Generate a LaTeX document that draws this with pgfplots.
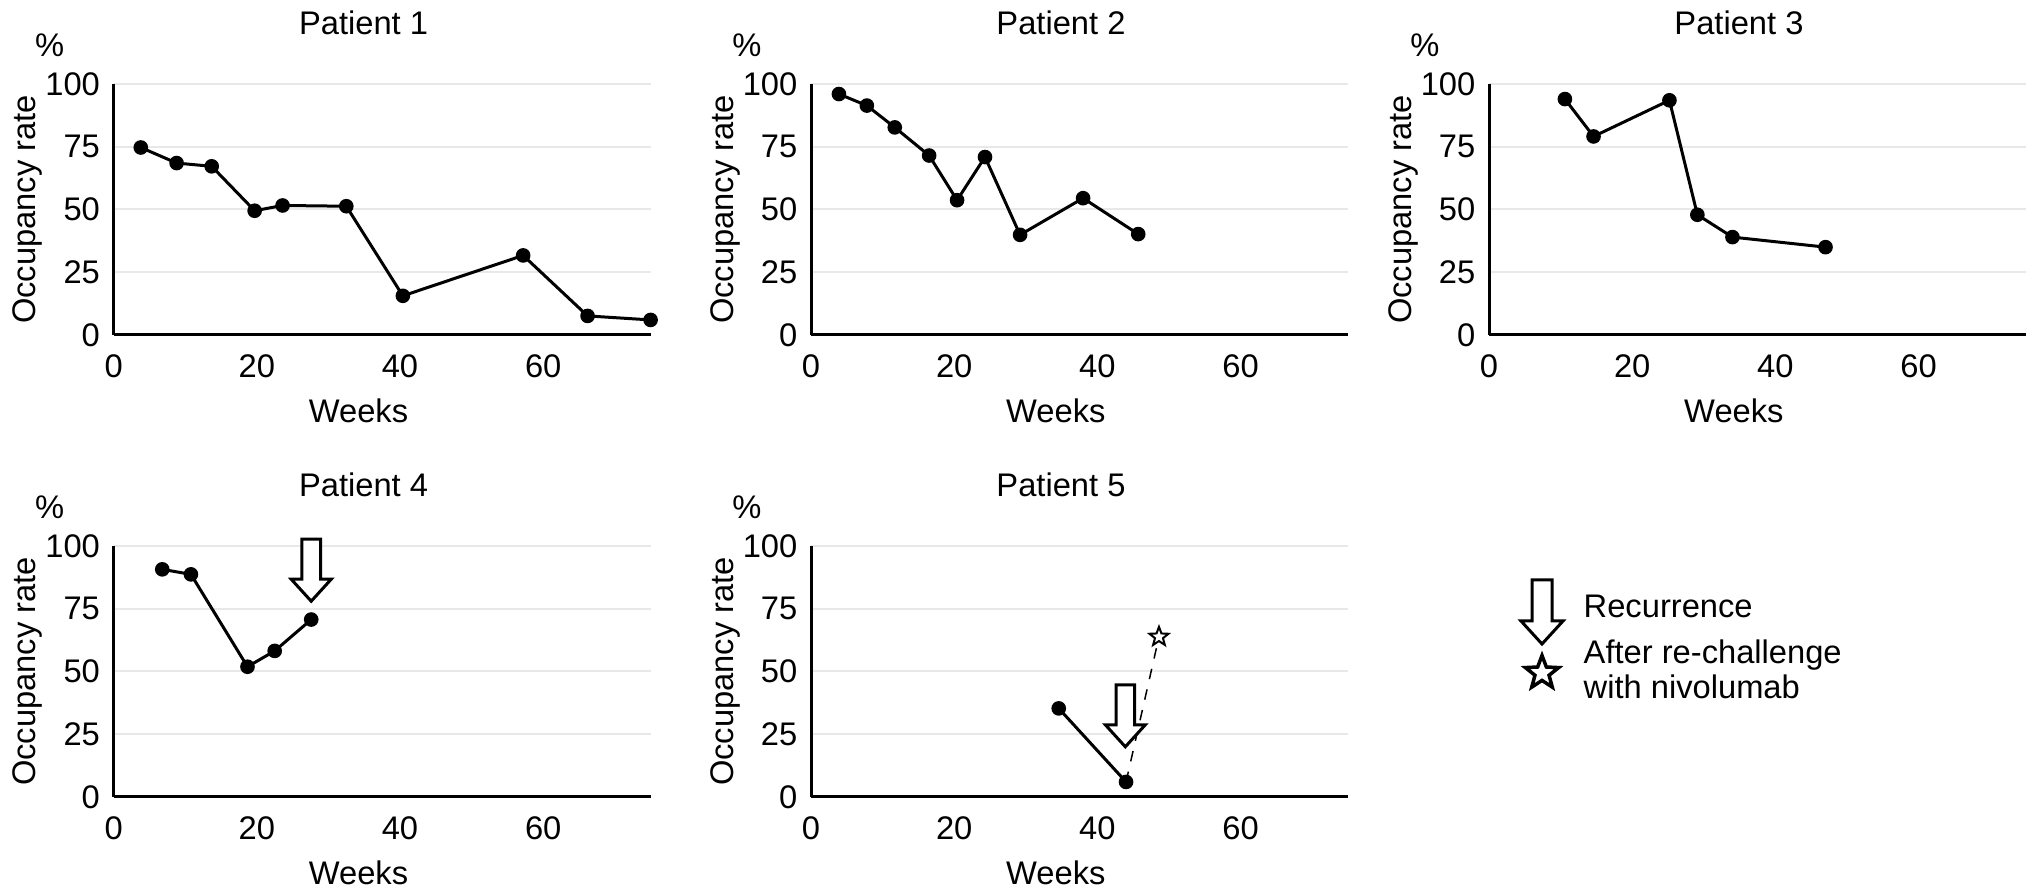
\documentclass[border=0pt]{standalone}
\usepackage{fontspec}
\setmainfont{Liberation Sans}
\usepackage{pgfplots}
\pgfplotsset{compat=1.18}

\pgfdeclareplotmark{ostar}{%
 \pgfpathmoveto{\pgfpointpolar{90}{\pgfplotmarksize}}%
 \pgfpathlineto{\pgfpointpolar{126}{0.42\pgfplotmarksize}}%
 \pgfpathlineto{\pgfpointpolar{162}{\pgfplotmarksize}}%
 \pgfpathlineto{\pgfpointpolar{198}{0.42\pgfplotmarksize}}%
 \pgfpathlineto{\pgfpointpolar{234}{\pgfplotmarksize}}%
 \pgfpathlineto{\pgfpointpolar{270}{0.42\pgfplotmarksize}}%
 \pgfpathlineto{\pgfpointpolar{306}{\pgfplotmarksize}}%
 \pgfpathlineto{\pgfpointpolar{342}{0.42\pgfplotmarksize}}%
 \pgfpathlineto{\pgfpointpolar{18}{\pgfplotmarksize}}%
 \pgfpathlineto{\pgfpointpolar{54}{0.42\pgfplotmarksize}}%
 \pgfpathclose
 \pgfusepathqfillstroke
}

\newcommand\recarrow[2]{%
  \draw[line width=0.3mm, fill=white, line join=miter] (axis cs:#1,#2) -- ++(-2mm,2.2mm) -- ++(1.07mm,0) -- ++(0,4mm) -- ++(1.86mm,0) -- ++(0,-4mm) -- ++(1.07mm,0) -- cycle;}

\newcommand\tfont{\fontsize{9.3}{11}\selectfont}
\newcommand\ptitle[1]{%
  \node[font=\tfont, anchor=center, inner sep=0pt] at (rel axis cs:0.4655,1) [yshift=6.1mm] {#1};
  \node[font=\tfont, anchor=center, inner sep=0pt] at (rel axis cs:0,1) [xshift=-6.4mm, yshift=3.9mm] {\%};}

\pgfplotsset{
  pline/.style={black, solid, line width=0.3mm, mark=*, mark size=0.58mm, mark options={solid, fill=black}},
  pstyle/.style={
    scale only axis, width=53.7mm, height=25.1mm,
    anchor=south west,
    xmin=0, xmax=75, ymin=0, ymax=100,
    xtick={0,20,40,60}, ytick={0,25,50,75,100},
    axis x line*=bottom, axis y line*=left,
    axis line style={line width=0.3mm, black},
    ymajorgrids, major grid style={line width=0.2mm, color=black!9},
    major tick length=0pt,
    /pgf/number format/assume math mode=true,
    tick label style={font=\tfont, black},
    xticklabel style={anchor=north, inner sep=0pt, yshift=-1.9mm},
    yticklabel style={anchor=east, inner sep=0pt, xshift=-1.3mm},
    xlabel={Weeks}, ylabel={Occupancy rate},
    xlabel style={at={(axis description cs:0.456,0)}, anchor=center, yshift=-7.6mm, font=\tfont},
    ylabel style={at={(axis description cs:-0.16,0.5)}, anchor=center, font=\tfont},
    clip=false,
  }
}

\begin{document}
\begin{tikzpicture}
\path[use as bounding box] (0,0) rectangle (203.2mm,-89.3mm);

\begin{axis}[pstyle, at={(11.36mm,-33.5mm)}]
\addplot[pline] coordinates {(3.8,74.7) (8.8,68.5) (13.7,67.2) (19.7,49.5) (23.6,51.6) (32.5,51.3) (40.4,15.6) (57.2,31.7) (66.2,7.6) (75,6.0)};
\ptitle{Patient 1}
\end{axis}

\begin{axis}[pstyle, at={(81.1mm,-33.5mm)}]
\addplot[pline] coordinates {(3.9,96.0) (7.8,91.4) (11.7,82.7) (16.5,71.5) (20.4,53.7) (24.3,70.9) (29.2,39.9) (38.0,54.5) (45.7,40.2)};
\ptitle{Patient 2}
\end{axis}

\begin{axis}[pstyle, at={(148.9mm,-33.5mm)}]
\addplot[pline] coordinates {(10.6,94.0) (14.6,79.1) (25.2,93.5) (29.1,47.9) (34.0,39.0) (47,35)};
\ptitle{Patient 3}
\end{axis}

\begin{axis}[pstyle, at={(11.36mm,-79.7mm)}]
\addplot[pline] coordinates {(6.8,90.7) (10.8,88.7) (18.7,51.9) (22.5,58.2) (27.6,70.7)};
\ptitle{Patient 4}
\recarrow{27.6}{78}
\end{axis}

\begin{axis}[pstyle, at={(81.1mm,-79.7mm)}]
\addplot[pline] coordinates {(34.6,35.3) (44,6)};
\addplot[black, dashed, line width=0.15mm, mark=ostar, mark size=1.0mm, mark options={solid, fill=white, line width=0.2mm}, mark indices={2}] coordinates {(44,6) (48.6,63.8)};
\ptitle{Patient 5}
\recarrow{43.9}{20}
\end{axis}

% legend
\draw[line width=0.3mm, fill=white, line join=miter] (154.2mm,-64.4mm) -- ++(-2.1mm,2.3mm) -- ++(1.1mm,0) -- ++(0,4.1mm) -- ++(2mm,0) -- ++(0,-4.1mm) -- ++(1.1mm,0) -- cycle;
\node[font=\tfont, anchor=west, inner sep=0pt] at (158.3mm,-60.6mm) {Recurrence};
\draw[line width=0.35mm, line join=miter, shift={(154.2mm,-67.3mm)}] (90:1.75mm) -- (126:0.74mm) -- (162:1.75mm) -- (198:0.74mm) -- (234:1.75mm) -- (270:0.74mm) -- (306:1.75mm) -- (342:0.74mm) -- (18:1.75mm) -- (54:0.74mm) -- cycle;
\node[font=\tfont, anchor=west, inner sep=0pt] at (158.3mm,-65.5mm) {After re-challenge};
\node[font=\tfont, anchor=west, inner sep=0pt] at (158.3mm,-68.7mm) {with nivolumab};
\end{tikzpicture}
\end{document}
